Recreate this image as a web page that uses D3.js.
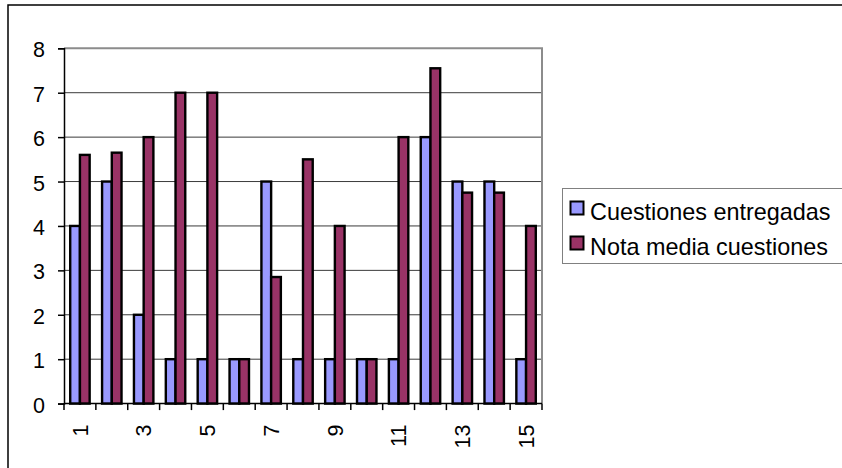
<!DOCTYPE html>
<html>
<head>
<meta charset="utf-8">
<script src="https://cdn.jsdelivr.net/npm/d3@7/dist/d3.min.js"></script>
<style>
  html, body { margin: 0; padding: 0; background: #fff; }
  svg { display: block; font-family: "Liberation Sans", Arial, sans-serif; }
</style>
</head>
<body>
<svg id="chart" width="842" height="468"></svg>
<script>
// Categories (question sets 1..15)
const categories = d3.range(1, 16);
// Series names
const seriesNames = ["Cuestiones entregadas", "Nota media cuestiones"];
// Series values
const entregadas = [4, 5, 2, 1, 1, 1, 5, 1, 1, 1, 1, 6, 5, 5, 1];
const notaMedia = [5.6, 5.65, 6, 7, 7, 1, 2.85, 5.5, 4, 1, 6, 7.55, 4.75, 4.75, 4];
const seriesColors = ["#9999FF", "#993366"];
// Axis tick values
const yTicks = [0, 1, 2, 3, 4, 5, 6, 7, 8];
const xTickLabels = [1, 3, 5, 7, 9, 11, 13, 15];

const svg = d3.select("#chart");

// Outer chart frame (extends past the visible page on right and bottom)
svg.append("rect")
  .attr("x", 8).attr("y", 5)
  .attr("width", 1000).attr("height", 600)
  .attr("fill", "none").attr("stroke", "#000").attr("stroke-width", 1.5);

const plot = { left: 64, right: 542, top: 48.3, bottom: 403.6 };

const y = d3.scaleLinear().domain([0, 8]).range([plot.bottom, plot.top]);

const x0 = d3.scaleBand()
  .domain(categories)
  .range([plot.left, plot.right])
  .paddingInner(0.39)
  .paddingOuter(0.195);

const x1 = d3.scaleBand()
  .domain(seriesNames)
  .range([0, x0.bandwidth()]);

const step = x0.step();

// Horizontal gridlines
svg.append("g")
  .selectAll("line")
  .data(yTicks.filter(d => d > 0 && d < 8))
  .join("line")
  .attr("x1", plot.left).attr("x2", plot.right)
  .attr("y1", d => y(d)).attr("y2", d => y(d))
  .attr("stroke", "#3a3a3a").attr("stroke-width", 1);

// Plot area border (top and right)
svg.append("path")
  .attr("d", `M${plot.left},${y(8)}H${plot.right}V${plot.bottom}`)
  .attr("fill", "none").attr("stroke", "#8c8c8c").attr("stroke-width", 2);

// Bars
const rows = categories.map((c, i) => ({ c, values: [entregadas[i], notaMedia[i]] }));
const groups = svg.append("g")
  .selectAll("g")
  .data(rows)
  .join("g")
  .attr("transform", d => `translate(${x0(d.c)},0)`);

groups.selectAll("rect")
  .data(d => d.values.map((v, k) => ({ key: seriesNames[k], v, k })))
  .join("rect")
  .attr("x", d => x1(d.key))
  .attr("y", d => y(d.v))
  .attr("width", x1.bandwidth())
  .attr("height", d => y(0) - y(d.v))
  .attr("fill", d => seriesColors[d.k])
  .attr("stroke", "#000").attr("stroke-width", 2.4);

// Y axis
const yAxis = d3.axisLeft(y).tickValues(yTicks).tickSize(6).tickPadding(13).tickFormat(d3.format("d"));
const gy = svg.append("g").attr("transform", `translate(${plot.left},0)`).call(yAxis);
gy.select(".domain").attr("stroke", "#000").attr("stroke-width", 1.5);
gy.selectAll(".tick line").attr("stroke", "#000").attr("stroke-width", 1.5);
gy.selectAll(".tick text")
  .attr("font-size", 21.5).attr("fill", "#000")
  .attr("font-family", "'Liberation Sans', Arial, sans-serif")
  .attr("dy", "0.4em");

// X axis line with ticks at category boundaries
const xBound = d3.range(0, categories.length + 1).map(i => plot.left + i * step);
svg.append("line")
  .attr("x1", plot.left).attr("x2", plot.right)
  .attr("y1", plot.bottom).attr("y2", plot.bottom)
  .attr("stroke", "#000").attr("stroke-width", 1.5);
svg.append("g")
  .selectAll("line")
  .data(xBound)
  .join("line")
  .attr("x1", d => d).attr("x2", d => d)
  .attr("y1", plot.bottom).attr("y2", plot.bottom + 6.5)
  .attr("stroke", "#000").attr("stroke-width", 1.5);

// Rotated category labels (every other one)
svg.append("g")
  .selectAll("text")
  .data(xTickLabels)
  .join("text")
  .attr("transform", d => `translate(${x0(d) + x0.bandwidth() / 2},${plot.bottom + 21}) rotate(-90)`)
  .attr("text-anchor", "end")
  .attr("dy", "0.36em")
  .attr("font-size", 21.5)
  .attr("fill", "#000")
  .text(d => d);

// Legend
const legend = svg.append("g");
legend.append("rect")
  .attr("x", 562.5).attr("y", 188.5)
  .attr("width", 300).attr("height", 75)
  .attr("fill", "#fff").attr("stroke", "#808080").attr("stroke-width", 1);

const items = legend.selectAll("g.item")
  .data(seriesNames)
  .join("g")
  .attr("class", "item")
  .attr("transform", (d, i) => `translate(0,${220 + i * 35})`);

items.append("rect")
  .attr("x", 570.5).attr("y", -18.5)
  .attr("width", 13).attr("height", 13)
  .attr("fill", (d, i) => seriesColors[i])
  .attr("stroke", "#000").attr("stroke-width", 2);

items.append("text")
  .attr("x", 590).attr("y", 0)
  .attr("font-size", 23.4)
  .attr("fill", "#000")
  .text(d => d);
</script>
</body>
</html>
